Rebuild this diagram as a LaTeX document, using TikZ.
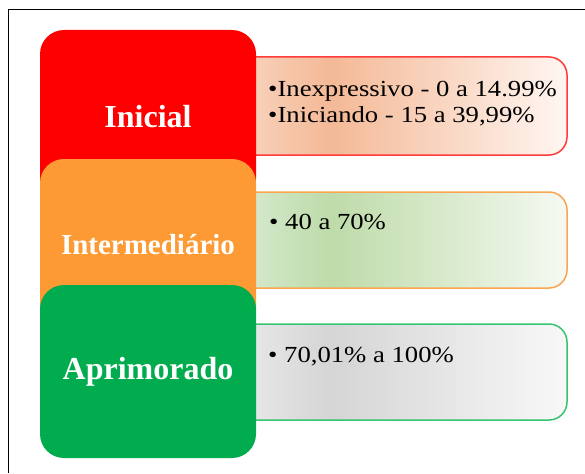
\documentclass[tikz,border=0pt]{standalone}
\usepackage{fontspec}
\setmainfont{Liberation Serif}
\newfontfamily\bodyfont[FakeStretch=1.16]{Liberation Serif}
\definecolor{boxred}{HTML}{FF0000}
\definecolor{boxorange}{HTML}{FD9A33}
\definecolor{boxgreen}{HTML}{00AC4D}
\definecolor{edgered}{HTML}{FF3B3B}
\definecolor{edgeorange}{HTML}{FBA552}
\definecolor{edgegreen}{HTML}{36C46E}
\definecolor{rA}{HTML}{F7D0B9}
\definecolor{rB}{HTML}{F4B996}
\definecolor{rC}{HTML}{FFF6F2}
\definecolor{oA}{HTML}{D3E8CA}
\definecolor{oB}{HTML}{BEDBA9}
\definecolor{oC}{HTML}{F5F9F2}
\definecolor{gA}{HTML}{E6E6E6}
\definecolor{gB}{HTML}{D5D5D5}
\definecolor{gC}{HTML}{F8F8F8}
\pgfdeclarehorizontalshading{redsh}{100bp}{color(0bp)=(rA); color(28.5bp)=(rA); color(40bp)=(rB); color(75bp)=(rC); color(100bp)=(rC)}
\pgfdeclarehorizontalshading{orangesh}{100bp}{color(0bp)=(oA); color(28.5bp)=(oA); color(40bp)=(oB); color(75bp)=(oC); color(100bp)=(oC)}
\pgfdeclarehorizontalshading{greensh}{100bp}{color(0bp)=(gA); color(28.5bp)=(gA); color(40bp)=(gB); color(75bp)=(gC); color(100bp)=(gC)}
\tikzset{
  catbox/.style={rectangle, rounded corners=24pt, minimum width=216pt, minimum height=173pt, inner sep=0pt, text=white, font=\bfseries},
  infobox/.style={rectangle, rounded corners=18pt, minimum width=337pt, inner sep=0pt, line width=1.5pt},
  infotext/.style={anchor=base west, inner sep=0pt, font=\bodyfont\fontsize{23pt}{26pt}\selectfont, text=black},
  frameline/.style={line width=1.4pt, draw=black}
}
\begin{document}
\begin{tikzpicture}[x=1pt, y=-1pt]
\useasboundingbox (0,0) rectangle (585,473);
\fill[white] (0,0) rectangle (585,473);
\coordinate (fb) at (8.7,473);
\coordinate (fc) at (8.7,9.7);
\coordinate (fr) at (585,9.7);
\draw[frameline] (fb) -- (fc) -- (fr);
% info boxes (behind)
\node[infobox, draw=edgered, shading=redsh, minimum height=98pt] (ib1) at (398.5,106) {};
\node[infobox, draw=edgeorange, shading=orangesh, minimum height=96pt] (ib2) at (398.5,240) {};
\node[infobox, draw=edgegreen, shading=greensh, minimum height=96pt] (ib3) at (398.5,372) {};
% category boxes
\node[catbox, fill=boxred, font=\bfseries\fontsize{32pt}{36pt}\selectfont] (ini) at (148,116.5) {Inicial};
\node[catbox, fill=boxorange, font=\bfseries\fontsize{29pt}{33pt}\selectfont] (int) at (148,245.5) {\raisebox{2pt}{Intermediário}};
\node[catbox, fill=boxgreen, font=\bfseries\fontsize{32pt}{36pt}\selectfont] (apr) at (148,371.5) {Aprimorado};
% texts
\node[infotext] (t1) at (268,97) {•Inexpressivo - 0 a 14.99\%};
\node[infotext] (t2) at (268,123) {•Iniciando - 15 a 39,99\%};
\node[infotext] (t3) at (269,229) {• 40 a 70\%};
\node[infotext] (t4) at (268,362) {• 70,01\% a 100\%};
\end{tikzpicture}
\end{document}
